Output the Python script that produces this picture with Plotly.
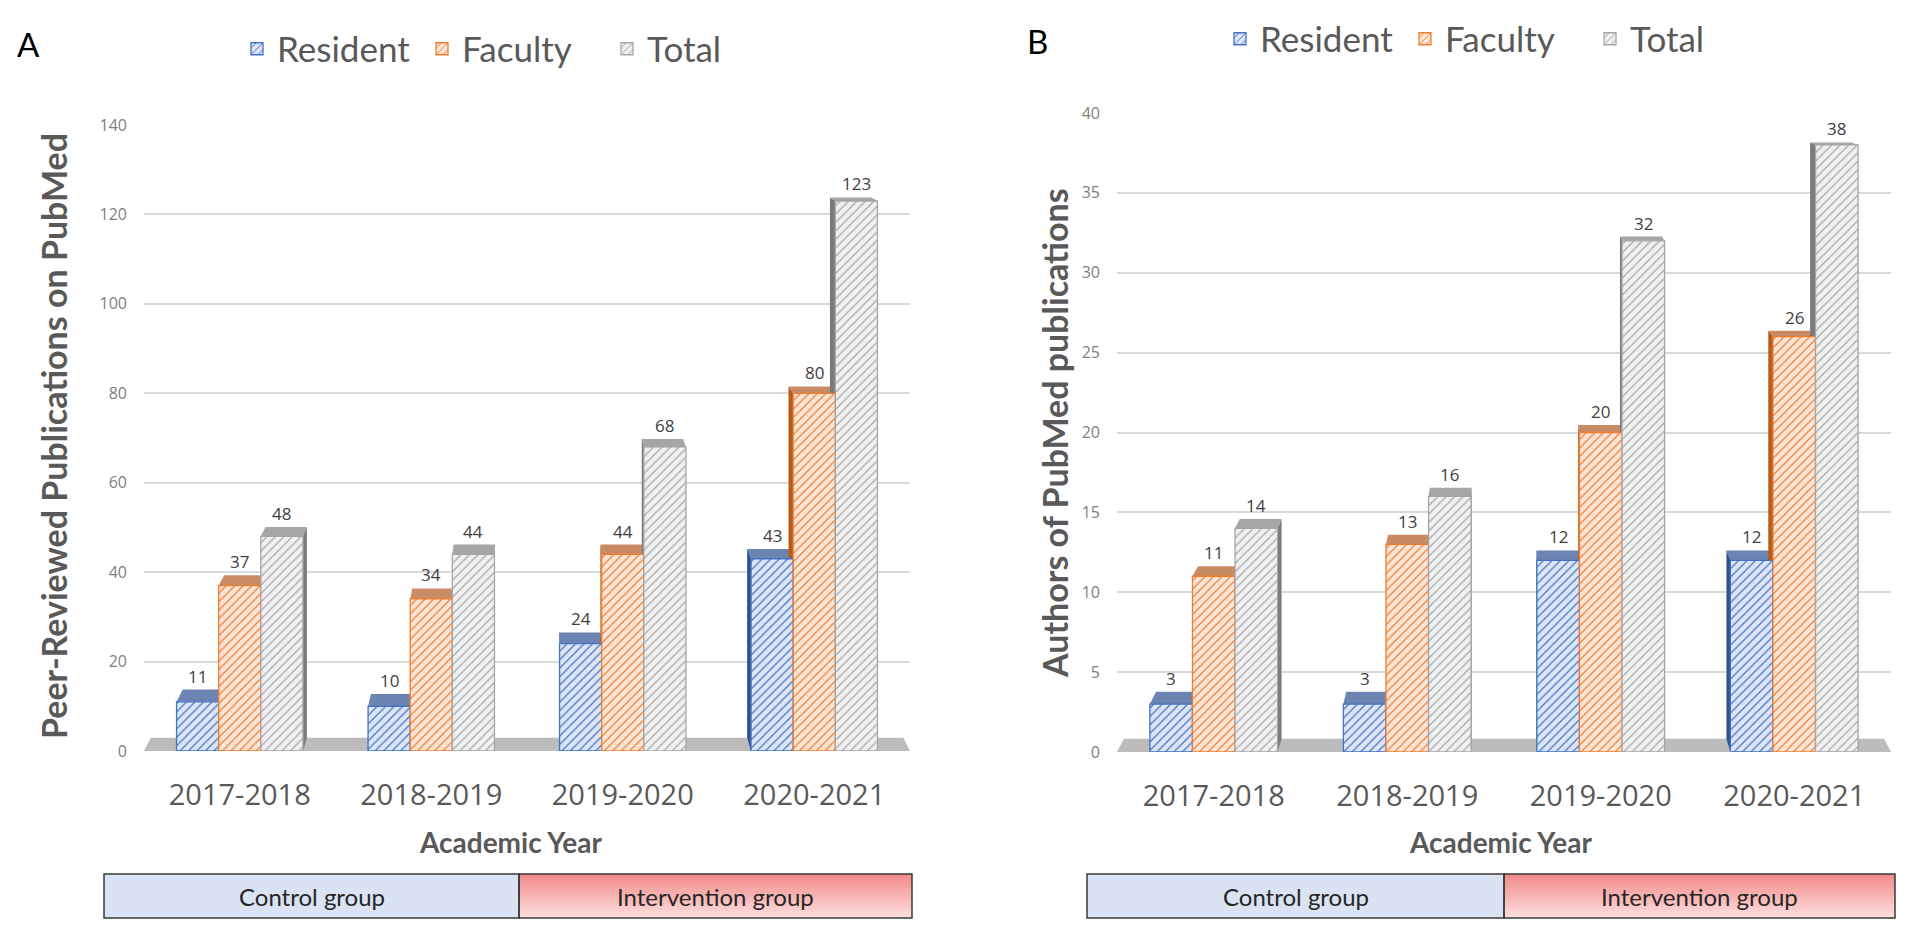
import plotly.graph_objects as go

# ---------------- data ----------------
years = ["2017-2018", "2018-2019", "2019-2020", "2020-2021"]
series_names = ["Resident", "Faculty", "Total"]

pubs_resident = [11, 10, 24, 43]
pubs_faculty = [37, 34, 44, 80]
pubs_total = [48, 44, 68, 123]

auth_resident = [3, 3, 12, 12]
auth_faculty = [11, 13, 20, 26]
auth_total = [14, 16, 32, 38]

yticks_a = [0, 20, 40, 60, 80, 100, 120, 140]
yticks_b = [0, 5, 10, 15, 20, 25, 30, 35, 40]

group_labels = ["Control group", "Intervention group"]
panel_letters = ["A", "B"]
ytitle_a = "Peer-Reviewed Publications on PubMed"
ytitle_b = "Authors of PubMed publications"
xtitle = "Academic Year"

# ---------------- styles ----------------
W, H = 1920, 948
OFF = 8  # page body margin: screen position = figure position + 8
line_colors = ["#4472C4", "#ED7D31", "#A5A5A5"]
bg_colors = ["#dce6f7", "#fce4d6", "#f0f0f0"]
cap_colors = ["#6b84b2", "#c98b63", "#a6a6a6"]
side_colors = ["#2f528f", "#b35c1e", "#7a7a7a"]
bar_w = 0.22
offsets = [-0.33, -0.11, 0.11]
K = 0.0175  # perspective factor for the pseudo-3D faces


def fx(X):
    return (X - OFF) / W


def fy(Y):
    return 1 - (Y - OFF) / H


panels = [
    dict(xa="x", ya="y", legend="legend", px0=144, px1=910, py0=751, py1=125,
         yticks=yticks_a, ymax=140, vals=[pubs_resident, pubs_faculty, pubs_total],
         ytitle=ytitle_a, ytitle_x=53, ytitle_y=436, xtitle_x=510,
         box=(104, 519, 912), letter_x=15, letter_y=44, leg_x=237, leg_y=49),
    dict(xa="x2", ya="y2", legend="legend2", px0=1117, px1=1891, py0=752, py1=113,
         yticks=yticks_b, ymax=40, vals=[auth_resident, auth_faculty, auth_total],
         ytitle=ytitle_b, ytitle_x=1054, ytitle_y=433, xtitle_x=1500,
         box=(1087, 1504, 1895), letter_x=1025, letter_y=41, leg_x=1220, leg_y=39),
]

fig = go.Figure()
shapes = []
annotations = []

for pi, p in enumerate(panels):
    xr0, xr1 = -0.5, 3.5
    sx = (p["px1"] - p["px0"]) / (xr1 - xr0)
    sy = (p["py0"] - p["py1"]) / p["ymax"]
    xv = (p["px0"] + p["px1"]) / 2.0

    def d2px(x, y, p=p, sx=sx, sy=sy):
        return p["px0"] + (x - xr0) * sx, p["py0"] - y * sy

    def px2d(X, Y, p=p, sx=sx, sy=sy):
        return xr0 + (X - p["px0"]) / sx, (p["py0"] - Y) / sy

    def path(pts_px):
        pts = [px2d(X, Y) for X, Y in pts_px]
        return "M " + " L ".join(f"{x:.5f},{y:.5f}" for x, y in pts) + " Z"

    # floor
    X0, Y0 = d2px(xr0, 0)
    X1, _ = d2px(xr1, 0)
    t0 = K * Y0
    shapes.append(dict(type="path", xref=p["xa"], yref=p["ya"], layer="between",
                       path=path([(X0, Y0), (X1, Y0), (X1 + K * (xv - X1), Y0 - t0),
                                  (X0 + K * (xv - X0), Y0 - t0)]),
                       fillcolor="#bcbcbc", line=dict(width=0)))

    for si, name in enumerate(series_names):
        vals = p["vals"][si]
        fig.add_trace(go.Bar(
            x=list(range(len(years))), y=vals, name=name,
            width=bar_w, offset=offsets[si],
            xaxis=p["xa"], yaxis=p["ya"], legend=p["legend"],
            marker=dict(color=bg_colors[si],
                        line=dict(color=line_colors[si], width=1.3),
                        pattern=dict(shape="/", fgcolor=line_colors[si],
                                     bgcolor=bg_colors[si], size=6, solidity=0.2,
                                     fillmode="replace")),
            hoverinfo="skip", showlegend=True,
        ))
        for i, v in enumerate(vals):
            xa0 = i + offsets[si]
            xa1 = xa0 + bar_w
            A0, Yv = d2px(xa0, v)
            A1, _ = d2px(xa1, v)
            t = K * Yv
            d0 = K * (xv - A0)
            d1 = K * (xv - A1)
            # top cap
            shapes.append(dict(type="path", xref=p["xa"], yref=p["ya"], layer="between",
                               path=path([(A0, Yv), (A1, Yv), (A1 + d1, Yv - t), (A0 + d0, Yv - t)]),
                               fillcolor=cap_colors[si], line=dict(width=0)))
            # side face
            if A1 < xv:
                pts = [(A1, Y0), (A1, Yv), (A1 + d1, Yv - t), (A1 + d1, Y0 - t0)]
            elif A0 > xv:
                pts = [(A0, Y0), (A0, Yv), (A0 + d0, Yv - t), (A0 + d0, Y0 - t0)]
            else:
                pts = None
            if pts:
                shapes.append(dict(type="path", xref=p["xa"], yref=p["ya"], layer="between",
                                   path=path(pts), fillcolor=side_colors[si], line=dict(width=0)))
            # value label
            annotations.append(dict(xref=p["xa"], yref=p["ya"], x=(xa0 + xa1) / 2, y=v,
                                    text=str(v), showarrow=False, yanchor="bottom",
                                    yshift=t,
                                    font=dict(family="Open Sans", size=17, color="#404040")))

    # y title
    annotations.append(dict(xref="paper", yref="paper", x=fx(p["ytitle_x"]),
                            y=fy(p["ytitle_y"]), text=p["ytitle"], textangle=-90,
                            showarrow=False, xanchor="center", yanchor="middle",
                            font=dict(family="Lato", size=34, color="#595959", weight="bold")))
    # x title
    annotations.append(dict(xref="paper", yref="paper", x=fx(p["xtitle_x"]), y=fy(842),
                            text=xtitle, showarrow=False, xanchor="center", yanchor="middle",
                            font=dict(family="Lato", size=28, color="#595959", weight="bold")))
    # panel letter
    annotations.append(dict(xref="paper", yref="paper", x=fx(p["letter_x"]), y=fy(p["letter_y"]),
                            text=panel_letters[pi], showarrow=False, xanchor="left", yanchor="middle",
                            font=dict(family="Lato", size=33, color="#000000")))

    # group boxes
    bx0, bxm, bx1 = p["box"]
    by0, by1 = 874, 918
    shapes.append(dict(type="rect", xref="paper", yref="paper",
                       x0=fx(bx0), x1=fx(bxm), y0=fy(by1), y1=fy(by0),
                       fillcolor="#dae3f3", line=dict(width=0)))
    n = 16
    c_top = (243, 140, 140)
    c_bot = (253, 220, 220)
    for k in range(n):
        f = k / (n - 1)
        col = tuple(round(c_top[j] + (c_bot[j] - c_top[j]) * f) for j in range(3))
        ya_ = by0 + (by1 - by0) * k / n
        # each band reaches the bottom so later bands overlay earlier ones without seams
        shapes.append(dict(type="rect", xref="paper", yref="paper",
                           x0=fx(bxm), x1=fx(bx1), y0=fy(by1), y1=fy(ya_),
                           fillcolor=f"rgb{col}", line=dict(width=0)))
    for a, b in [(bx0, bxm), (bxm, bx1)]:
        shapes.append(dict(type="rect", xref="paper", yref="paper",
                           x0=fx(a), x1=fx(b), y0=fy(by1), y1=fy(by0),
                           fillcolor="rgba(0,0,0,0)", line=dict(color="#3a3a3a", width=1.5)))
    for gi, (a, b) in enumerate([(bx0, bxm), (bxm, bx1)]):
        annotations.append(dict(xref="paper", yref="paper", x=fx((a + b) / 2),
                                y=fy((by0 + by1) / 2), text=group_labels[gi],
                                showarrow=False, xanchor="center", yanchor="middle",
                                font=dict(family="Lato", size=24, color="#262626")))


def xaxis_cfg(p):
    return dict(domain=[fx(p["px0"]), fx(p["px1"])], range=[-0.5, 3.5],
                tickmode="array", tickvals=list(range(len(years))), ticktext=years,
                showgrid=False, zeroline=False, showline=False, ticks="",
                ticklabelstandoff=24, automargin=False,
                tickfont=dict(family="Open Sans", size=29, color="#595959"),
                anchor=p["ya"])


def yaxis_cfg(p):
    return dict(domain=[fy(p["py0"]), fy(p["py1"])], range=[0, p["ymax"]],
                tickmode="array", tickvals=p["yticks"], showgrid=True,
                gridcolor="#d9d9d9", gridwidth=1.5, zeroline=False, showline=False,
                ticks="", ticklabelstandoff=16, automargin=False,
                tickfont=dict(family="Open Sans", size=16, color="#808080"),
                anchor=p["xa"])


def legend_cfg(p):
    return dict(orientation="h", x=fx(p["leg_x"]), xanchor="left",
                y=fy(p["leg_y"]), yanchor="middle", entrywidth=140,
                font=dict(family="Lato", size=35, color="#595959"),
                bgcolor="rgba(0,0,0,0)")


pa, pb = panels
fig.update_layout(
    width=W, height=H, autosize=False,
    margin=dict(l=0, r=0, t=0, b=0, autoexpand=False),
    paper_bgcolor="white", plot_bgcolor="rgba(0,0,0,0)",
    barmode="overlay",
    xaxis=xaxis_cfg(pa), yaxis=yaxis_cfg(pa),
    xaxis2=xaxis_cfg(pb), yaxis2=yaxis_cfg(pb),
    legend=legend_cfg(pa), legend2=legend_cfg(pb),
    shapes=shapes, annotations=annotations,
)

fig.write_html("out.html")
